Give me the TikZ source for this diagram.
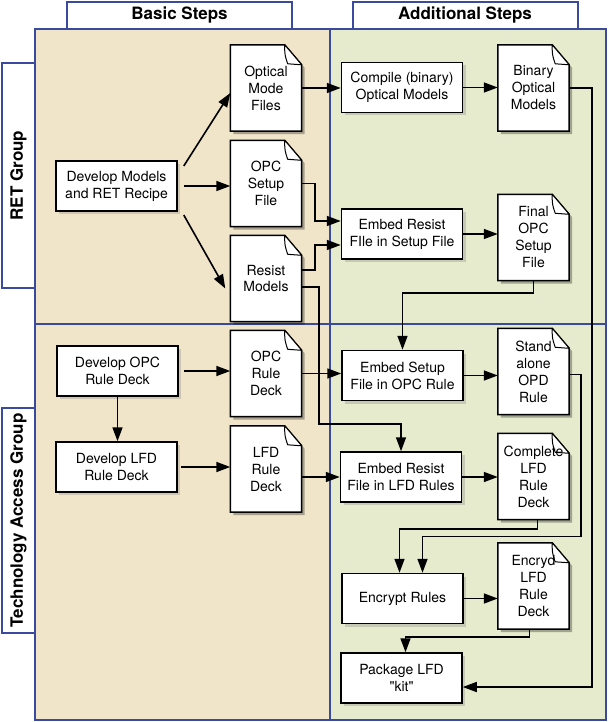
\documentclass[tikz,border=0pt]{standalone}
\usepackage{fontspec}
\setmainfont{TeX Gyre Heros}[Ligatures=TeXOff]
\usepackage{tikz}
\usetikzlibrary{arrows.meta,shadows}

\definecolor{panelblue}{RGB}{58,74,158}
\definecolor{basicbg}{RGB}{240,228,201}
\definecolor{addbg}{RGB}{229,235,204}

\pgfdeclarelayer{panels}
\pgfdeclarelayer{docs}
\pgfsetlayers{panels,docs,main}

\begin{document}
\begin{tikzpicture}[x=1pt, y=-1pt,
  txt/.style={font=\fontsize{14}{17}\selectfont, align=center},
  stepbox/.style={txt, draw, line width=1.5pt, fill=white, minimum width=121pt, minimum height=50pt, inner sep=2pt,
    drop shadow={shadow xshift=3pt, shadow yshift=-3pt, opacity=.3}},
  docnode/.style={txt, minimum width=71pt, minimum height=86pt, inner sep=0pt},
  hdr/.style={draw=panelblue, line width=2pt, fill=white, font=\fontsize{17}{20}\selectfont\bfseries,
    minimum width=225pt, minimum height=27pt, inner sep=0pt},
  flow/.style={line width=1.6pt, -{Triangle[length=14pt, width=10pt]}}]
  \useasboundingbox (0,0) rectangle (608,722);

  % two columns, two rows
  \begin{pgfonlayer}{panels}
    \fill[basicbg] (35,29) rectangle (330,720);
    \fill[addbg] (330,29) rectangle (606,720);
    \draw[panelblue, line width=2pt] (35,29) rectangle (606,720)
      (330,29) -- (330,720) (35,324) -- (606,324);
  \end{pgfonlayer}

  % column and row titles
  \node[hdr] (basic) at (179.5,15.5) {Basic Steps};
  \node[hdr] (additional) at (465,15.5) {Additional Steps};
  \node[hdr, rotate=90, minimum height=33pt] (ret) at (18.5,175.5) {RET Group};
  \node[hdr, rotate=90, minimum height=33pt] (tag) at (18.5,520.5) {Technology Access Group};

  % RET group
  \node[stepbox] (devmodels) at (116.5,186) {Develop Models\\and RET Recipe};
  \node[docnode] (optfiles) at (266,88) {Optical\\Mode\\Files};
  \node[docnode] (setupfile) at (266,183.5) {OPC\\Setup\\File};
  \node[docnode] (resist) at (266,278.5) {Resist\\Models};
  \node[stepbox] (compile) at (402,87.5) {Compile (binary)\\Optical Models};
  \node[docnode] (binary) at (533.5,88) {Binary\\Optical\\Models};
  \node[stepbox] (embedsetup) at (402,234) {Embed Resist\\FIle in Setup File};
  \node[docnode] (finalsetup) at (533.5,237.5) {Final\\OPC\\Setup\\File};

  % technology access group
  \node[stepbox] (devopc) at (117.5,371) {Develop OPC\\Rule Deck};
  \node[docnode] (opcdeck) at (266,373.5) {OPC\\Rule\\Deck};
  \node[stepbox] (devlfd) at (116.5,467) {Develop LFD\\Rule Deck};
  \node[docnode] (lfddeck) at (266,469) {LFD\\Rule\\Deck};
  \node[stepbox] (embedopc) at (402.5,375.5) {Embed Setup\\File in OPC Rule};
  \node[docnode] (standalone) at (533.5,371.5) {Stand\\alone\\OPD\\Rule};
  \node[stepbox] (embedlfd) at (401,477) {Embed Resist\\File in LFD Rules};
  \node[docnode] (complete) at (533.5,476.5) {Complete\\LFD\\Rule\\Deck};
  \node[stepbox] (encrypt) at (402.5,598.5) {Encrypt Rules};
  \node[docnode] (encryd) at (533.5,586) {Encryd\\LFD\\Rule\\Deck};
  \node[stepbox] (package) at (401.5,678) {Package LFD\\"kit"};

  % paper sheets with folded corner
  \begin{pgfonlayer}{docs}
    \foreach \d in {optfiles,setupfile,resist,binary,finalsetup,opcdeck,lfddeck,standalone,complete,encryd} {
      \fill[black, opacity=.3] ([shift={(3pt,-3pt)}]\d.north west) -- ([shift={(3pt,-3pt)},xshift=-17pt]\d.north east)
        -- ([shift={(3pt,-3pt)},yshift=-20pt]\d.north east) -- ([shift={(3pt,-3pt)}]\d.south east)
        -- ([shift={(3pt,-3pt)}]\d.south west) -- cycle;
      \draw[line width=1.5pt, fill=white] (\d.north west) -- ([xshift=-17pt]\d.north east)
        -- ([yshift=-20pt]\d.north east) -- (\d.south east) -- (\d.south west) -- cycle;
      \draw[line width=1pt, fill=white, line join=round] ([xshift=-17pt]\d.north east)
        .. controls ([xshift=-17pt,yshift=-10pt]\d.north east) .. ([xshift=-14pt,yshift=-19pt]\d.north east)
        -- ([yshift=-20pt]\d.north east) -- cycle;
    }
  \end{pgfonlayer}

  % basic steps
  \draw[flow] ([xshift=6pt,yshift=20pt]devmodels.east) -- ([yshift=-5pt]optfiles.west);
  \draw[flow] ([xshift=6pt]devmodels.east) -- (devmodels.east -| setupfile.west);
  \draw[flow] ([xshift=6pt,yshift=-29pt]devmodels.east) -- ([xshift=-5pt,yshift=-10pt]resist.west);
  \draw[flow] ([xshift=5pt]devopc.east) -- (devopc.east -| opcdeck.west);
  \draw[flow] (devopc.south) -- (devopc.south |- devlfd.north);
  \draw[flow] ([xshift=3pt]devlfd.east) -- (devlfd.east -| lfddeck.west);

  % into the additional steps
  \draw[flow] (optfiles.east) -- (optfiles.east -| compile.west);
  \draw[flow] (compile.east) -- (compile.east -| binary.west);
  \draw[flow] (setupfile.east) -- ++(13pt,0) |- ([yshift=13pt]embedsetup.west);
  \draw[flow] ([yshift=8.5pt]resist.east) -- ++(13pt,0) |- ([yshift=-11pt]embedsetup.west);
  \draw[flow] (embedsetup.east) -- (embedsetup.east -| finalsetup.west);
  \draw[flow] ([yshift=-8.5pt]resist.east) -- ++(17pt,0) -- ++(0,-137pt) -| (embedlfd.north);
  \draw[flow] (finalsetup.south) -- ++(0,-12pt) -| (embedopc.north);
  \draw[flow] (opcdeck.east) -- (opcdeck.east -| embedopc.west);
  \draw[flow] ([yshift=-8pt]lfddeck.east) -- (embedlfd.west);
  \draw[flow] (embedopc.east) -- (embedopc.east -| standalone.west);
  \draw[flow] (embedlfd.east) -- (embedlfd.east -| complete.west);
  \draw[flow] ([xshift=4pt]complete.south) -- ++(0,-9pt) -| ([xshift=-3pt]encrypt.north);
  \draw[flow] ([yshift=-3pt]standalone.east) -- ++(12pt,0) -- ++(0,-162pt) -| ([xshift=20pt]encrypt.north);
  \draw[flow] (encrypt.east) -- (encrypt.east -| encryd.west);
  \draw[flow] ([xshift=-4pt]encryd.south) -- ++(0,-8pt) -| ([xshift=4pt]package.north);
  \draw[flow] (binary.east) -- ++(23pt,0) |- ([yshift=-9pt]package.east);
\end{tikzpicture}
\end{document}
